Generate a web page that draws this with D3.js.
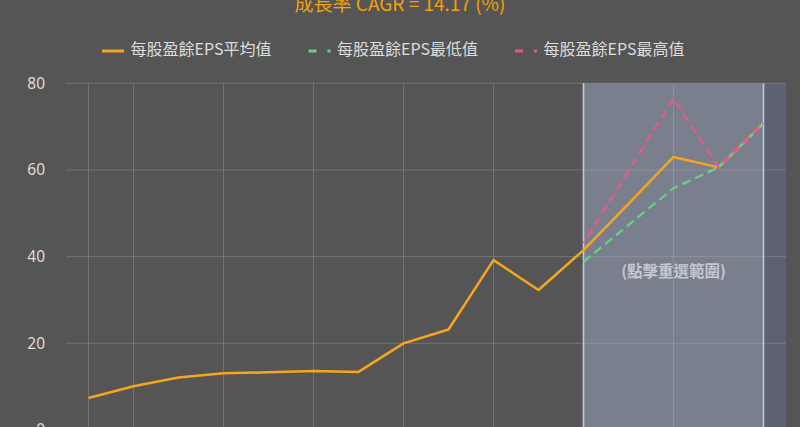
<!DOCTYPE html>
<html>
<head>
<meta charset="utf-8">
<script src="https://cdn.jsdelivr.net/npm/d3@7"></script>
<style>
  body { margin: 0; background: #555555; }
  svg { display: block; font-family: "Noto Sans CJK TC", "Noto Sans", sans-serif; }
</style>
</head>
<body>
<div id="chart"></div>
<script>
const categories = ["2009", "2010", "2011", "2012", "2013", "2014", "2015", "2016",
  "2017", "2018", "2019", "2020", "2021", "2022", "2023", "2024"];
const epsAvg = [7.4, 10.1, 12.1, 13.1, 13.3, 13.6, 13.4, 20.0, 23.2, 39.2, 32.3, 41.5, 52.2, 63.0, 60.6, 70.8];
const epsMin = [null, null, null, null, null, null, null, null, null, null, null, 38.8, 47.3, 55.8, 60.6, 70.8];
const epsMax = [null, null, null, null, null, null, null, null, null, null, null, 43.1, 59.8, 76.5, 60.6, 70.8];
const yTicks = [0, 20, 40, 60, 80];
const gridCats = ["2009", "2010", "2012", "2014", "2016", "2018", "2020", "2022", "2024"];
const selStart = "2020";
const selEnd = "2024";
const title = "成長率 CAGR = 14.17 (%)";
const legendNames = ["每股盈餘EPS平均值", "每股盈餘EPS最低值", "每股盈餘EPS最高值"];

const width = 800;
const height = 427;
const margin = { top: 83.3, right: 14, left: 66 };
const yZero = 430;

const svg = d3.select("#chart").append("svg")
  .attr("width", width)
  .attr("height", height);

svg.append("rect").attr("width", width).attr("height", height).attr("fill", "#555555");

const x = d3.scaleBand()
  .domain(categories)
  .range([margin.left, width - margin.right]);
const cx = (c) => x(c) + x.bandwidth() / 2;

const y = d3.scaleLinear()
  .domain([0, 80])
  .range([yZero, margin.top]);

// selection area
svg.append("rect")
  .attr("x", cx(selEnd))
  .attr("y", margin.top)
  .attr("width", width - margin.right - cx(selEnd))
  .attr("height", height - margin.top)
  .attr("fill", "#5c6273");
svg.append("rect")
  .attr("x", cx(selStart))
  .attr("y", margin.top)
  .attr("width", cx(selEnd) - cx(selStart))
  .attr("height", height - margin.top)
  .attr("fill", "#7a7f8e");

// grid
svg.append("g")
  .selectAll("line")
  .data(yTicks.filter((d) => d > 0))
  .enter()
  .append("line")
  .attr("x1", margin.left)
  .attr("x2", width - margin.right)
  .attr("y1", (d) => y(d))
  .attr("y2", (d) => y(d))
  .attr("stroke", "#bbbbbb")
  .attr("stroke-opacity", 0.3)
  .attr("stroke-width", 1);

svg.append("g")
  .selectAll("line")
  .data(gridCats)
  .enter()
  .append("line")
  .attr("x1", (d) => cx(d))
  .attr("x2", (d) => cx(d))
  .attr("y1", margin.top)
  .attr("y2", height)
  .attr("stroke", "#bbbbbb")
  .attr("stroke-opacity", 0.3)
  .attr("stroke-width", 1);

// selection borders
svg.append("g")
  .selectAll("line")
  .data([selStart, selEnd])
  .enter()
  .append("line")
  .attr("x1", (d) => cx(d))
  .attr("x2", (d) => cx(d))
  .attr("y1", margin.top)
  .attr("y2", height)
  .attr("stroke", "#c4c8d6")
  .attr("stroke-width", 1.6);

// y axis labels
const yAxis = svg.append("g")
  .attr("transform", `translate(${margin.left - 21}, 0)`)
  .call(d3.axisLeft(y).tickValues(yTicks).tickSize(0).tickPadding(0));
yAxis.select(".domain").remove();
yAxis.selectAll("text")
  .attr("fill", "#dddddd")
  .attr("font-size", 15.5)
  .attr("font-family", "'Noto Sans', sans-serif");

// x axis (sits below the visible area, as in the cropped original)
const xAxis = svg.append("g")
  .attr("transform", `translate(0, ${yZero})`)
  .call(d3.axisBottom(x).tickSize(0).tickPadding(10));
xAxis.select(".domain").remove();
xAxis.selectAll("text")
  .attr("fill", "#dddddd")
  .attr("font-size", 14);

svg.append("text")
  .attr("x", cx(selStart) + (cx(selEnd) - cx(selStart)) / 2)
  .attr("y", 273)
  .attr("text-anchor", "middle")
  .attr("dominant-baseline", "middle")
  .attr("fill", "#c4c7d2")
  .attr("font-size", 15.5)
  .attr("font-weight", "bold")
  .text("(點擊重選範圍)");

// lines
const line = d3.line()
  .defined((d) => d.v != null)
  .x((d) => cx(d.c))
  .y((d) => y(d.v));
const toPts = (arr) => arr.map((v, i) => ({ c: categories[i], v: v }));

svg.append("path")
  .datum(toPts(epsAvg))
  .attr("fill", "none")
  .attr("stroke", "#f6a61e")
  .attr("stroke-width", 2.5)
  .attr("stroke-linejoin", "round")
  .attr("d", line);

svg.append("path")
  .datum(toPts(epsMin))
  .attr("fill", "none")
  .attr("stroke", "#66cf8c")
  .attr("stroke-width", 2.3)
  .attr("stroke-dasharray", "9,5")
  .attr("d", line);

svg.append("path")
  .datum(toPts(epsMax))
  .attr("fill", "none")
  .attr("stroke", "#e8588c")
  .attr("stroke-width", 2.3)
  .attr("stroke-dasharray", "9,5")
  .attr("stroke-dashoffset", 7)
  .attr("d", line);

// title
svg.append("text")
  .attr("x", 400)
  .attr("y", 11)
  .attr("text-anchor", "middle")
  .attr("fill", "#f0a30a")
  .attr("font-size", 19)
  .text(title);

// legend
const legendColors = ["#f6a61e", "#66cf8c", "#e8588c"];
const legendDash = [null, "8,11", "8,11"];
const legendX = [102, 308.5, 515];
const legend = svg.append("g")
  .selectAll("g")
  .data(legendNames)
  .enter()
  .append("g")
  .attr("transform", (d, i) => `translate(${legendX[i]}, 51)`);
legend.append("line")
  .attr("x1", 0)
  .attr("x2", 22)
  .attr("stroke", (d, i) => legendColors[i])
  .attr("stroke-width", 3)
  .attr("stroke-dasharray", (d, i) => legendDash[i]);
legend.append("text")
  .attr("x", 28.5)
  .attr("dominant-baseline", "middle")
  .attr("fill", "#dddddd")
  .attr("font-size", 16)
  .text((d) => d);
</script>
</body>
</html>
